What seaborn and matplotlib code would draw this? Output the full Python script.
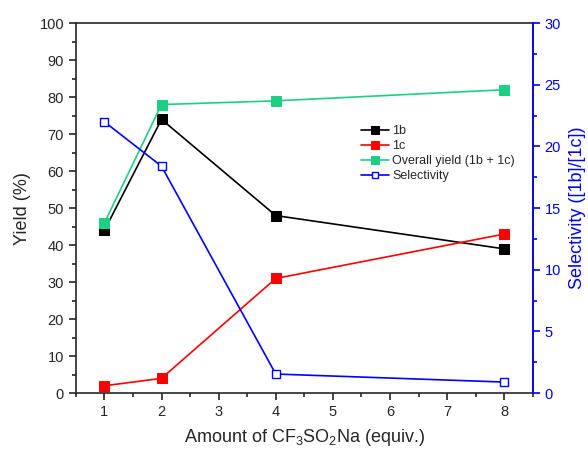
import pandas as pd
import numpy as np
import seaborn as sns
import matplotlib
matplotlib.use('Agg')
import matplotlib.pyplot as plt
from matplotlib.ticker import MultipleLocator

# data
amount = [1, 2, 4, 8]
yield_1b = [44, 74, 48, 39]
yield_1c = [2, 4, 31, 43]
overall = [46, 78, 79, 82]
selectivity = [22.0, 18.4, 1.55, 0.9]

sns.set_style('ticks')
plt.rcParams['font.family'] = ['Liberation Sans', 'DejaVu Sans']
plt.rcParams['mathtext.fontset'] = 'custom'
plt.rcParams['mathtext.rm'] = 'Liberation Sans'

green = '#1bd084'

fig = plt.figure(figsize=(5.88, 4.54), dpi=100)
ax = fig.add_axes([0.129, 0.134, 0.777, 0.815])
ax2 = ax.twinx()

sns.lineplot(x=amount, y=yield_1b, ax=ax, color='black', marker='s', markersize=7,
             markeredgecolor='black', linewidth=1.2, label='1b', legend=False)
sns.lineplot(x=amount, y=yield_1c, ax=ax, color='#ff0000', marker='s', markersize=7,
             markeredgecolor='#ff0000', linewidth=1.2, label='1c', legend=False)
sns.lineplot(x=amount, y=overall, ax=ax, color=green, marker='s', markersize=7,
             markeredgecolor=green, linewidth=1.2, label='Overall yield (1b + 1c)', legend=False)
sns.lineplot(x=amount, y=selectivity, ax=ax2, color='#0000ff', marker='s', markersize=6,
             markerfacecolor='white', markeredgecolor='#0000ff', markeredgewidth=1,
             linewidth=1.2, label='Selectivity', legend=False)

ax.set_xlim(0.5, 8.5)
ax.set_ylim(0, 100)
ax2.set_ylim(0, 30)
ax.xaxis.set_major_locator(MultipleLocator(1))
ax.xaxis.set_minor_locator(MultipleLocator(0.5))
ax.yaxis.set_major_locator(MultipleLocator(10))
ax.yaxis.set_minor_locator(MultipleLocator(5))
ax2.yaxis.set_major_locator(MultipleLocator(5))
ax2.yaxis.set_minor_locator(MultipleLocator(2.5))

for a in (ax, ax2):
    for s in a.spines.values():
        s.set_visible(True)
        s.set_linewidth(1.2)
ax2.spines['right'].set_color('#0000ff')
ax2.spines['left'].set_visible(False)
ax2.spines['top'].set_visible(False)
ax2.spines['bottom'].set_visible(False)

ax.tick_params(axis='both', which='major', direction='out', length=5, width=1.2, labelsize=10.5)
ax.tick_params(axis='both', which='minor', direction='out', length=3, width=1.2)
ax.tick_params(axis='x', which='both', top=False)
ax2.tick_params(axis='y', which='major', direction='out', length=5, width=1.2,
                colors='#0000ff', labelsize=10.5)
ax2.tick_params(axis='y', which='minor', direction='out', length=3, width=1.2, colors='#0000ff')

ax.set_xlabel('Amount of CF$_3$SO$_2$Na (equiv.)', fontsize=13, labelpad=6)
ax.set_ylabel('Yield (%)', fontsize=13, labelpad=6)
ax2.set_ylabel('Selectivity ([1b]/[1c])', fontsize=13, color='#0000ff', labelpad=6)

h1, l1 = ax.get_legend_handles_labels()
h2, l2 = ax2.get_legend_handles_labels()
ax.legend(h1 + h2, l1 + l2, loc='upper left', bbox_to_anchor=(0.6, 0.755), frameon=False,
          fontsize=9, handlelength=2.2, handletextpad=0.3, labelspacing=0.25, markerscale=0.75)

fig.savefig('out.png', dpi=100)
